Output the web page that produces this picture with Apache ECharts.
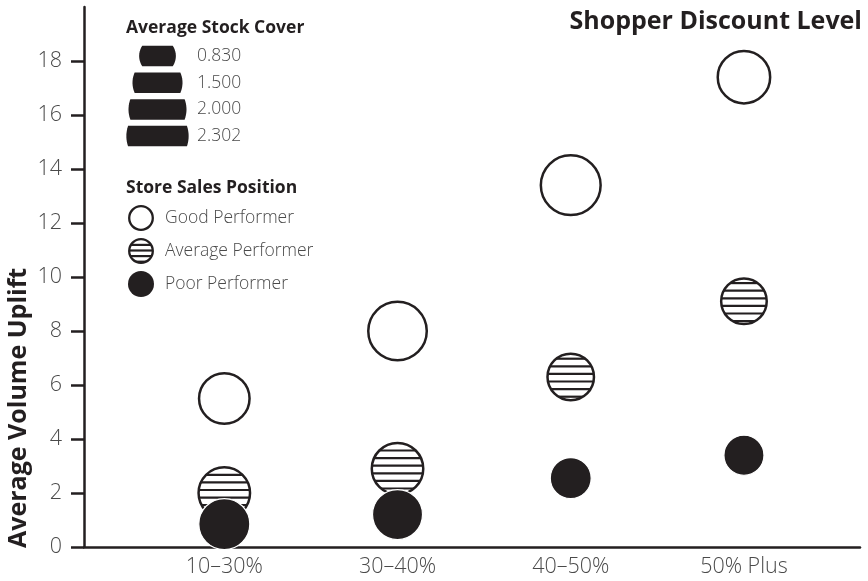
<!DOCTYPE html>
<html>
<head>
<meta charset="utf-8">
<title>Average Volume Uplift by Shopper Discount Level</title>
<script src="https://cdn.jsdelivr.net/npm/echarts@6/dist/echarts.min.js"></script>
<style>
  html, body { margin: 0; padding: 0; background: #ffffff; }
  #chart { width: 868px; height: 581px; }
</style>
</head>
<body>
<div id="chart"></div>
<script>
// ---- data ----
const discountLevels = ['10–30%', '30–40%', '40–50%', '50% Plus'];

const goodUplift    = [5.5, 8.0, 13.4, 17.4];
const goodCover     = [1.68, 2.21, 2.302, 1.80];
const averageUplift = [2.0, 2.9, 6.3, 9.1];
const averageCover  = [1.74, 1.74, 1.44, 1.39];
const poorUplift    = [0.85, 1.2, 2.55, 3.4];
const poorCover     = [1.56, 1.50, 1.02, 0.98];

const coverLegendValues = [0.830, 1.500, 2.000, 2.302];
const performerNames = ['Good Performer', 'Average Performer', 'Poor Performer'];
const yTickValues = [0, 2, 4, 6, 8, 10, 12, 14, 16, 18];

// ---- styling ----
const INK = '#231f20';
const LABEL_GREY = '#4a4a4a';
const FONT = '"Open Sans", "Noto Sans", sans-serif';
const BORDER = 2.5;
const STRIPE = 2.2;

// bubble area grows linearly with stock cover
const diameter = v => Math.sqrt(1721 * v - 81.4);

// circle with horizontal stripes (white ground, black hatching, black rim)
function hatchedCircle(cx, cy, r, gap, offset, rim) {
  const out = [{ type: 'circle', shape: { cx, cy, r }, style: { fill: '#ffffff' } }];
  const kMin = Math.ceil((-r - offset) / gap);
  const kMax = Math.floor((r - offset) / gap);
  for (let k = kMin; k <= kMax; k++) {
    const dy = offset + k * gap;
    if (Math.abs(dy) >= r - 0.3) continue;
    const hw = Math.sqrt(r * r - dy * dy);
    out.push({
      type: 'line',
      shape: { x1: cx - hw, y1: cy + dy, x2: cx + hw, y2: cy + dy },
      style: { stroke: INK, lineWidth: STRIPE }
    });
  }
  out.push({ type: 'circle', shape: { cx, cy, r }, style: { fill: 'none', stroke: INK, lineWidth: rim } });
  return out;
}

// size-legend glyph: a disc of the given diameter cut to a horizontal band
function coverGlyph(cx, cy, d, h) {
  const r = d / 2;
  const a = Math.asin(Math.min(1, (h / 2) / r));
  const n = 24;
  const pts = [];
  for (let i = 0; i <= n; i++) {
    const t = -a + (2 * a * i) / n;
    pts.push([cx + r * Math.cos(t), cy + r * Math.sin(t)]);
  }
  for (let i = 0; i <= n; i++) {
    const t = Math.PI - a + (2 * a * i) / n;
    pts.push([cx + r * Math.cos(t), cy + r * Math.sin(t)]);
  }
  return { type: 'polygon', shape: { points: pts }, style: { fill: INK } };
}

function textEl(text, x, y, size, weight, color, align) {
  return {
    type: 'text',
    x, y,
    style: {
      text,
      font: weight + ' ' + size + 'px ' + FONT,
      fill: color,
      align: align || 'left',
      textAlign: align || 'left',
      verticalAlign: 'middle',
      textVerticalAlign: 'middle'
    }
  };
}

const toPoints = (ys, covers) => ys.map((y, i) => [i, y, covers[i]]);

// ---- legend graphics ----
const legendGraphics = [];
legendGraphics.push(textEl('Average Stock Cover', 126, 28, 17.5, 'bold', INK));
coverLegendValues.forEach((v, i) => {
  const cy = 56 + i * 26.7;
  legendGraphics.push(coverGlyph(157.5, cy, diameter(v), 20.5));
  legendGraphics.push(textEl(v.toFixed(3), 197, cy, 17.5, '300', LABEL_GREY));
});
legendGraphics.push(textEl('Store Sales Position', 126, 188, 17.5, 'bold', INK));
const markerY = [218, 251, 284];
legendGraphics.push({
  type: 'circle', shape: { cx: 141, cy: markerY[0], r: 11.8 },
  style: { fill: '#ffffff', stroke: INK, lineWidth: 2.3 }
});
hatchedCircle(141, markerY[1], 11.8, 5.6, -0.5, 2.3).forEach(el => legendGraphics.push(el));
legendGraphics.push({
  type: 'circle', shape: { cx: 141, cy: markerY[2], r: 13 },
  style: { fill: INK }
});
performerNames.forEach((name, i) => {
  legendGraphics.push(textEl(name, 165, markerY[i], 17.5, '300', LABEL_GREY));
});

// axis titles
legendGraphics.push(textEl('Shopper Discount Level', 862, 22, 25, 'bold', INK, 'right'));
const yTitle = textEl('Average Volume Uplift', 19, 548, 25, 'bold', INK, 'left');
yTitle.rotation = Math.PI / 2;
legendGraphics.push(yTitle);

// ---- chart ----
const chart = echarts.init(document.getElementById('chart'), null, { renderer: 'canvas' });

chart.setOption({
  animation: false,
  backgroundColor: '#ffffff',
  grid: { left: 84, right: 8, top: 7, bottom: 34, containLabel: false },
  xAxis: {
    type: 'value',
    min: -0.81,
    max: 3.67,
    axisLine: { show: true, onZero: false, lineStyle: { color: INK, width: BORDER } },
    axisTick: { show: false },
    splitLine: { show: false },
    axisLabel: {
      customValues: discountLevels.map((_, i) => i),
      formatter: v => discountLevels[Math.round(v)] || '',
      margin: 9,
      fontSize: 21.5,
      fontFamily: FONT,
      fontWeight: 300,
      color: LABEL_GREY
    }
  },
  yAxis: {
    type: 'value',
    min: 0,
    max: 20,
    interval: 2,
    axisLine: { show: true, onZero: false, lineStyle: { color: INK, width: BORDER } },
    axisTick: {
      show: true,
      inside: false,
      length: 13,
      customValues: yTickValues,
      lineStyle: { color: INK, width: BORDER }
    },
    splitLine: { show: false },
    axisLabel: {
      customValues: yTickValues,
      margin: 22,
      fontSize: 21.5,
      fontFamily: FONT,
      fontWeight: 300,
      color: LABEL_GREY
    }
  },
  graphic: { elements: legendGraphics },
  series: [
    {
      name: performerNames[0],
      type: 'scatter',
      data: toPoints(goodUplift, goodCover),
      symbol: 'circle',
      symbolSize: val => diameter(val[2]) - BORDER,
      itemStyle: { color: '#ffffff', borderColor: INK, borderWidth: BORDER, opacity: 1 },
      emphasis: { disabled: true }
    },
    {
      name: performerNames[1],
      type: 'custom',
      data: toPoints(averageUplift, averageCover),
      renderItem: (params, api) => {
        const c = api.coord([api.value(0), api.value(1)]);
        const r = diameter(api.value(2)) / 2 - BORDER / 2;
        return { type: 'group', children: hatchedCircle(c[0], c[1], r, 7.6, -3, BORDER) };
      }
    },
    {
      name: performerNames[2],
      type: 'scatter',
      data: toPoints(poorUplift, poorCover),
      symbol: 'circle',
      symbolSize: val => diameter(val[2]),
      itemStyle: { color: INK, borderColor: '#ffffff', borderWidth: 1.2, opacity: 1 },
      emphasis: { disabled: true }
    }
  ]
});
</script>
</body>
</html>
